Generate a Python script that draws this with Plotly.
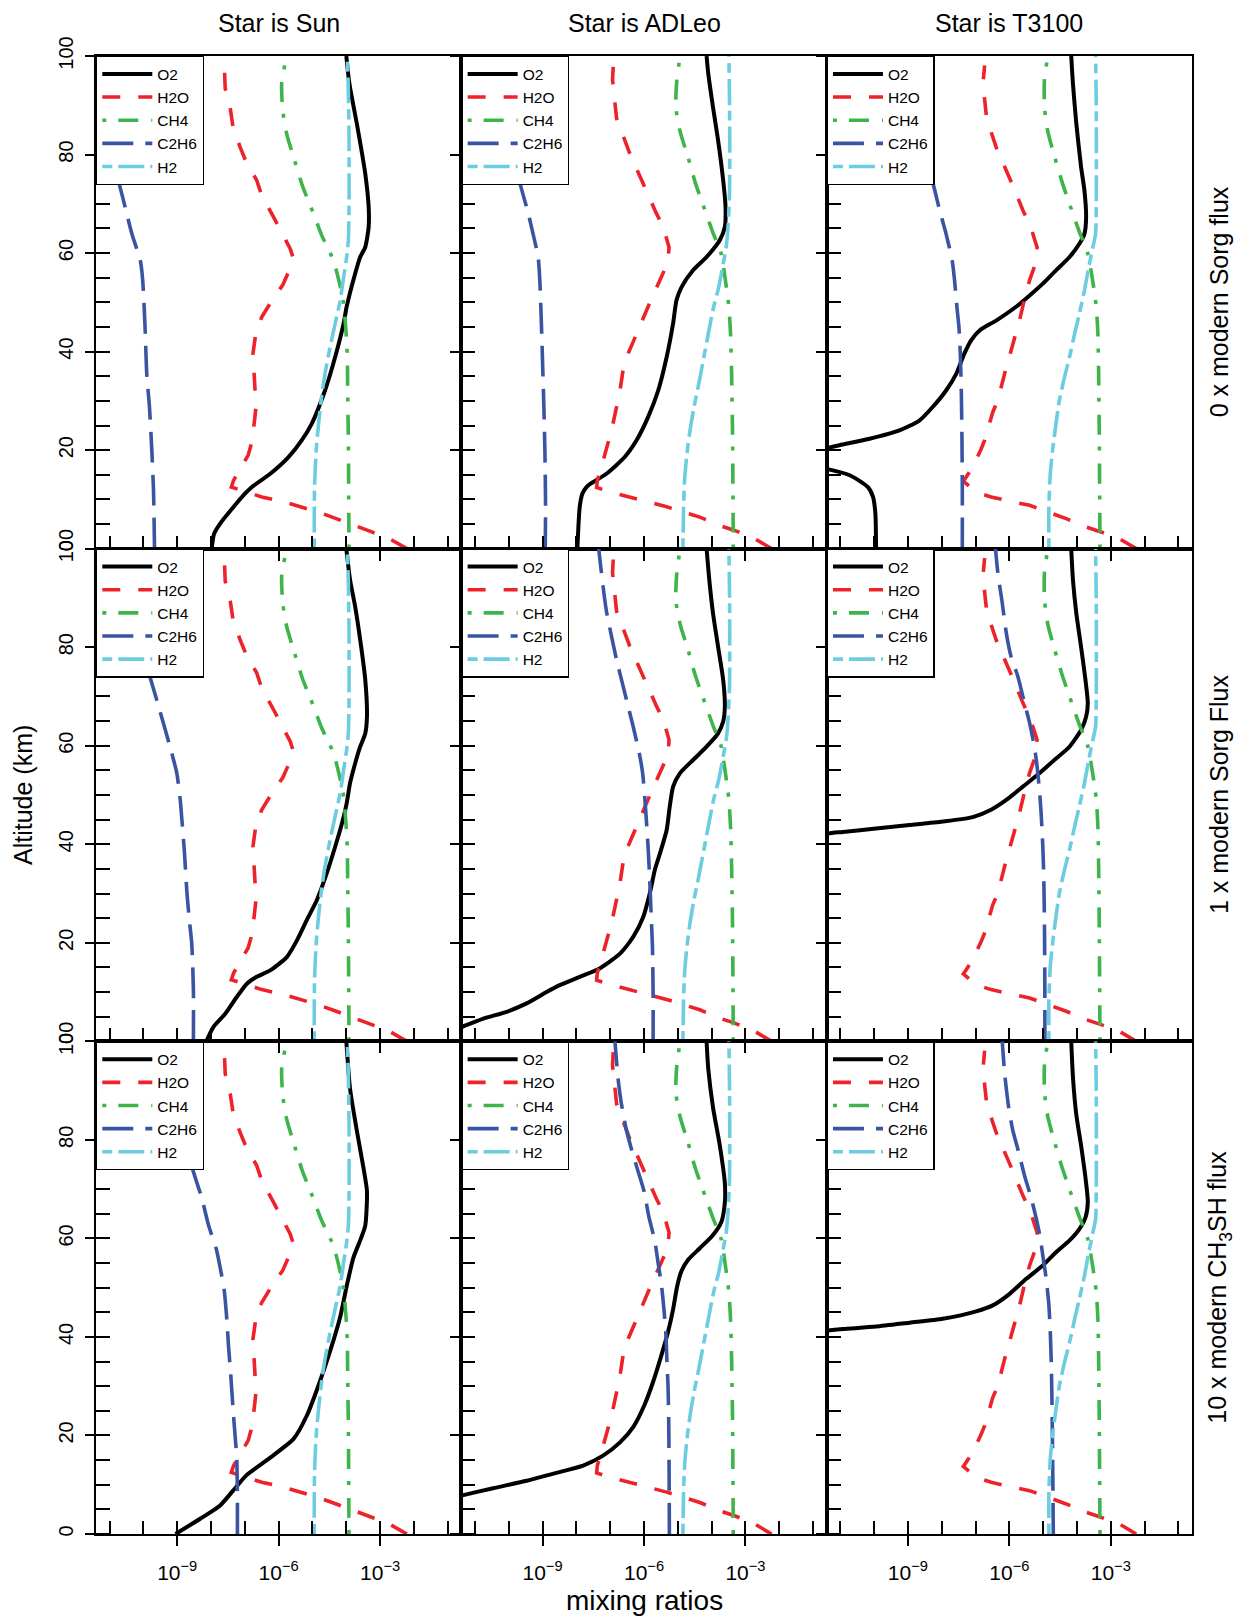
import plotly.graph_objects as go
from plotly.subplots import make_subplots

# ---------------- data: (altitude km, log10 mixing ratio) ----------------
SUN_O2_0 = [(0, -7.98), (3, -7.91), (5.1, -7.73), (8.5, -7.33), (11.2, -6.99), (12.5, -6.79), (15.2, -6.25),
            (18.6, -5.71), (22, -5.32), (25.4, -5.02), (32.1, -4.63), (38.9, -4.33), (45.7, -4.08), (49.1, -3.99),
            (55.8, -3.74), (59.2, -3.59), (61.2, -3.44), (65.3, -3.34), (69.4, -3.34), (76.1, -3.44),
            (86.3, -3.69), (94.4, -3.91), (100, -4.0)]
SUN_O2_1 = [(0, -8.14), (2.9, -7.93), (5.6, -7.58), (9, -7.24), (11.7, -6.94), (13.1, -6.65), (14.4, -6.25),
            (17.1, -5.76), (20.5, -5.46), (24.6, -5.17), (28.7, -4.87), (34.1, -4.58), (39.5, -4.33),
            (44.2, -4.13), (48.3, -3.99), (52.4, -3.89), (56.4, -3.74), (59.8, -3.59), (62.5, -3.44),
            (65.9, -3.39), (73.4, -3.44), (81.5, -3.59), (88.3, -3.74), (93.7, -3.89), (100, -4.0)]
SUN_O2_2 = [(0, -9.05), (3.1, -8.32), (5.8, -7.73), (9.7, -7.24), (12, -6.94), (15.5, -6.25), (19.3, -5.56),
            (24, -5.17), (30.2, -4.82), (37.1, -4.48), (44.1, -4.18), (50.3, -3.99), (56.1, -3.79),
            (59.6, -3.59), (62.6, -3.44), (69.6, -3.39), (74.2, -3.49), (81.9, -3.69), (90.4, -3.89), (100, -4.0)]

ADLEO_O2_0 = [(0, -7.97), (8.5, -7.9), (11.2, -7.82), (12.5, -7.7), (13.2, -7.58), (15.2, -7.11), (18.6, -6.57),
              (22, -6.22), (26.7, -5.88), (32.1, -5.58), (38.9, -5.33), (45.7, -5.14), (50.4, -5.04),
              (53.1, -4.89), (56.5, -4.55), (59.2, -4.15), (62.6, -3.76), (65.3, -3.61), (69.4, -3.59),
              (74.8, -3.66), (82.9, -3.81), (89.6, -3.96), (96.4, -4.1), (100, -4.15)]
ADLEO_O2_1 = [(0, -12.6), (1.5, -12.0), (2.9, -11.39), (4.6, -10.75), (6, -10.06), (7.7, -9.47), (10, -8.88),
              (11.4, -8.49), (13.1, -7.9), (14.8, -7.31), (17.8, -6.71), (21.2, -6.32), (25.3, -6.02),
              (30, -5.83), (34.8, -5.68), (38.1, -5.53), (42.9, -5.33), (47.6, -5.24), (51.7, -5.14),
              (54.4, -4.94), (57.1, -4.55), (59.8, -4.15), (62.5, -3.81), (64.9, -3.66), (68, -3.61),
              (73.4, -3.66), (80.1, -3.81), (86.9, -3.96), (93.7, -4.07), (100, -4.15)]
ADLEO_O2_2 = [(0, -14.0), (6, -12.4), (7.9, -11.34), (9.3, -10.46), (10.8, -9.47), (12.4, -8.59), (13.9, -7.8),
              (15.9, -7.21), (18.6, -6.71), (21.7, -6.32), (26.3, -5.98), (30.9, -5.73), (36.4, -5.48),
              (41, -5.29), (45.6, -5.14), (50.3, -5.02), (53.4, -4.89), (55.7, -4.69), (58, -4.35),
              (60.7, -3.96), (63.4, -3.71), (67.3, -3.61), (71.2, -3.61), (78.9, -3.76), (86.6, -3.96),
              (94.4, -4.1), (100, -4.15)]

T3100_O2_0 = [(0, -9.94), (7.1, -9.96), (10.5, -10.03), (12.5, -10.18), (14.9, -10.72), (16.2, -11.4),
              (17.2, -12.2), (18.3, -12.6), (19.3, -12.2), (20.3, -11.45), (21, -11.02), (22.3, -10.13),
              (24, -9.25), (26, -8.66), (28.8, -8.26), (32.1, -7.87), (35.5, -7.57), (39.6, -7.33),
              (42.3, -7.13), (44.3, -6.88), (46.3, -6.39), (49.1, -5.8), (51.4, -5.4), (53.8, -5.01),
              (56.5, -4.62), (59.2, -4.22), (61.9, -3.93), (63.9, -3.78), (67.3, -3.73), (72.7, -3.78),
              (77.5, -3.88), (86.3, -4.02), (94.4, -4.12), (100, -4.17)]
T3100_O2_1 = [(0, -15.0), (35, -14.0), (41, -12.2), (42.2, -11.36), (42.5, -10.92), (43.2, -9.94), (43.9, -8.95),
              (44.6, -7.97), (45.5, -7.08), (47, -6.54), (49, -6.09), (51.7, -5.6), (54.4, -5.11), (57.1, -4.67),
              (59.8, -4.22), (63.2, -3.88), (65.9, -3.73), (68.6, -3.68), (73.4, -3.75), (80.1, -3.88),
              (86.9, -4.02), (93.7, -4.12), (100, -4.17)]
T3100_O2_2 = [(0, -15.0), (35, -14.0), (40.5, -12.2), (41.3, -11.36), (41.6, -10.92), (42.1, -9.94),
              (42.9, -8.95), (43.7, -7.97), (45.2, -6.98), (46.4, -6.49), (48.7, -6.0), (51.8, -5.5),
              (54.5, -5.01), (57.2, -4.62), (59.6, -4.22), (61.9, -3.93), (64.2, -3.75), (67.3, -3.68),
              (71.2, -3.73), (78.9, -3.88), (85.1, -4.02), (92.8, -4.12), (100, -4.17)]

SUN_H2O = [(0, -2.21), (2, -2.72), (3.4, -3.25), (4.7, -3.79), (6.1, -4.3), (7.4, -4.82), (8.8, -5.45),
           (9.5, -5.85), (10.5, -6.5), (11.5, -6.99), (12.5, -7.4), (13.9, -7.33), (16.6, -7.09), (19, -6.9),
           (21, -6.82), (24.4, -6.74), (28.8, -6.67), (32.1, -6.69), (36.5, -6.74), (39.6, -6.76), (44, -6.67),
           (47, -6.5), (50.7, -6.17), (53.5, -5.88), (57.7, -5.61), (59.2, -5.58), (60.9, -5.66), (64.6, -5.96),
           (67.3, -6.15), (71.7, -6.5), (74.8, -6.65), (78.5, -6.96), (81.5, -7.14), (85.6, -7.35),
           (89.3, -7.43), (93.4, -7.58), (96.8, -7.6)]
ADLEO_H2O = [(0, -2.23), (2, -2.72), (3.7, -3.32), (4.7, -3.76), (6.4, -4.35), (7.4, -4.79), (8.5, -5.33),
             (9.5, -5.88), (10.5, -6.47), (11.5, -6.99), (12.4, -7.4), (13.9, -7.38), (16.6, -7.26),
             (21.3, -7.06), (24, -6.96), (28.8, -6.81), (32.1, -6.71), (36.2, -6.62), (39.6, -6.47),
             (43.6, -6.22), (47, -6.02), (50.7, -5.78), (54.5, -5.53), (58.2, -5.29), (61.2, -5.26),
             (65.3, -5.43), (68, -5.63), (72.7, -5.93), (74.8, -6.07), (80.2, -6.42), (87.3, -6.81),
             (95.1, -6.93), (97.8, -6.91)]
T3100_H2O = [(0, -2.25), (2, -2.74), (3.4, -3.29), (4.4, -3.73), (6.1, -4.32), (7.4, -4.81), (8.8, -5.4),
             (9.5, -5.9), (10.5, -6.54), (11.5, -6.98), (13.7, -7.36), (14.5, -7.28), (16.6, -7.08),
             (20.3, -6.83), (22, -6.73), (27.7, -6.49), (30.1, -6.34), (35.5, -6.14), (38.9, -6.0),
             (42.3, -5.85), (46.3, -5.7), (50.7, -5.55), (54.5, -5.4), (58.2, -5.21), (61.2, -5.18),
             (65.3, -5.37), (68.7, -5.6), (73.4, -5.88), (76.8, -6.09), (81.5, -6.39), (87.3, -6.67),
             (94.4, -6.78), (98.1, -6.73)]

SUN_CH4 = [(0, -3.92), (11.2, -3.93), (22, -3.94), (32.5, -3.96), (38.9, -3.97), (43.2, -4.0), (49.7, -4.08),
           (53.8, -4.2), (58.5, -4.38), (63.8, -4.74), (68, -4.97), (73.7, -5.3), (79.5, -5.56), (84.1, -5.76),
           (89, -5.88), (94.7, -5.91), (100, -5.76)]
ADLEO_CH4 = [(0, -3.36), (11.2, -3.37), (22, -3.38), (35.5, -3.41), (43.3, -3.44), (49.1, -3.49), (53.8, -3.58),
             (59.9, -3.72), (64.1, -3.96), (68.7, -4.2), (74.2, -4.48), (79.5, -4.7), (84.6, -4.93),
             (89.6, -5.06), (95.1, -5.03), (100, -4.93)]
T3100_CH4 = [(0, -3.32), (11.2, -3.33), (22, -3.34), (35.5, -3.36), (43.3, -3.38), (49.1, -3.43), (54.1, -3.53),
             (59.9, -3.68), (64.3, -3.93), (68, -4.12), (74.4, -4.44), (79.5, -4.66), (84.6, -4.86),
             (89.6, -4.96), (95.4, -4.96), (100, -4.86)]

SUN_H2 = [(0, -4.95), (12.5, -4.94), (20, -4.89), (25.4, -4.82), (31.5, -4.72), (35.5, -4.63), (40.9, -4.48),
          (45.7, -4.33), (50.4, -4.18), (55.1, -4.08), (59.2, -3.99), (62.6, -3.94), (69.4, -3.92),
          (82.9, -3.92), (93, -3.94), (100, -3.97)]
ADLEO_H2 = [(0, -4.85), (8.5, -4.83), (13.9, -4.8), (19.3, -4.73), (24, -4.64), (28.8, -4.52), (33.5, -4.38),
            (38.9, -4.23), (44.3, -4.08), (49.1, -3.94), (53.1, -3.79), (57.8, -3.66), (61.2, -3.57),
            (66, -3.51), (72.7, -3.47), (89.6, -3.47), (100, -3.49)]
T3100_H2 = [(0, -4.83), (8.5, -4.83), (15.2, -4.79), (20.6, -4.71), (25.4, -4.62), (30.1, -4.52), (34.8, -4.37),
            (38.9, -4.22), (43.6, -4.07), (47.7, -3.93), (52.4, -3.78), (57.2, -3.65), (61.2, -3.53),
            (63.9, -3.45), (69.4, -3.43), (89.6, -3.43), (100, -3.45)]

SUN_C2H6_0 = [(0, -9.67), (11.8, -9.7), (20, -9.75), (28.8, -9.82), (35.5, -9.9), (45, -9.95), (54.5, -10.02),
              (58.5, -10.09), (63.9, -10.34), (68, -10.49), (73.7, -10.7), (80, -10.95), (90, -11.3), (100, -11.6)]
SUN_C2H6_1 = [(0, -8.52), (10.4, -8.52), (19.9, -8.57), (24.6, -8.64), (30, -8.71), (38.8, -8.79), (44.9, -8.86),
              (49, -8.91), (54.4, -9.01), (58.5, -9.16), (63.9, -9.38), (68, -9.55), (73.4, -9.78), (80, -10.05),
              (90, -10.4), (100, -10.7)]
SUN_C2H6_2 = [(0, -7.22), (7.7, -7.22), (15.5, -7.24), (20.1, -7.29), (25.5, -7.35), (31.7, -7.41), (37.9, -7.48),
              (43.3, -7.53), (49.5, -7.61), (54.1, -7.73), (58, -7.85), (62.6, -8.07), (68.1, -8.27),
              (73.5, -8.52), (80, -8.8), (90, -9.1), (100, -9.4)]
ADLEO_C2H6_0 = [(0, -8.92), (8.5, -8.91), (20, -8.93), (28.8, -8.96), (38.2, -9.0), (45, -9.03), (54.5, -9.08),
                (59.2, -9.13), (63.9, -9.28), (68, -9.42), (73.7, -9.65), (80, -9.9), (90, -10.2), (100, -10.5)]
ADLEO_C2H6_1 = [(0, -5.73), (9, -5.73), (19.2, -5.75), (25.9, -5.79), (32.7, -5.83), (39.5, -5.88), (44.9, -5.93),
                (49.7, -5.98), (54.4, -6.04), (58.5, -6.14), (63.9, -6.32), (68, -6.47), (72.7, -6.64),
                (77.4, -6.81), (82.2, -6.96), (87.3, -7.11), (92.3, -7.21), (100, -7.34)]
ADLEO_C2H6_2 = [(0, -5.25), (15.5, -5.26), (23.2, -5.27), (30.2, -5.29), (34.8, -5.32), (40.2, -5.35),
                (45.6, -5.41), (50.3, -5.48), (54.9, -5.58), (59.5, -5.68), (64.2, -5.85), (69.6, -6.0),
                (73.5, -6.17), (78.1, -6.37), (82, -6.52), (87.4, -6.67), (92, -6.76), (100, -6.86)]
T3100_C2H6_0 = [(0, -7.39), (11.8, -7.39), (22, -7.4), (32.1, -7.42), (39.6, -7.45), (45, -7.49), (49.1, -7.55),
                (54.5, -7.62), (58.5, -7.69), (63.9, -7.87), (68.7, -8.06), (73.7, -8.24), (80, -8.5),
                (90, -8.8), (100, -9.1)]
T3100_C2H6_1 = [(0, -4.95), (9, -4.95), (22.6, -4.96), (32.7, -4.98), (39.5, -5.01), (46.3, -5.06), (51, -5.11),
                (56.4, -5.19), (59.8, -5.26), (64.6, -5.4), (68.6, -5.55), (74.1, -5.75), (78.1, -5.95),
                (82.9, -6.09), (89, -6.21), (95.1, -6.34), (100, -6.41)]
T3100_C2H6_2 = [(0, -4.7), (15.5, -4.72), (27.1, -4.74), (34.8, -4.76), (41, -4.79), (46.4, -4.83), (51.8, -4.91),
                (56.5, -5.01), (60.3, -5.09), (64.2, -5.21), (68.1, -5.35), (72.7, -5.55), (77.4, -5.72),
                (82, -5.9), (86.6, -6.02), (93.6, -6.14), (100, -6.21)]

STAR_TITLES = ["Star is Sun", "Star is ADLeo", "Star is T3100"]
ROW_LABELS = ["0 x modern Sorg flux", "1 x modern Sorg Flux", "10 x modern CH<sub>3</sub>SH flux"]
SPECIES = ["O2", "H2O", "CH4", "C2H6", "H2"]
X_TICK_EXP = [-9, -6, -3]
Y_TICKS = [0, 20, 40, 60, 80, 100]

PANELS = [
    [dict(O2=SUN_O2_0, H2O=SUN_H2O, CH4=SUN_CH4, C2H6=SUN_C2H6_0, H2=SUN_H2),
     dict(O2=ADLEO_O2_0, H2O=ADLEO_H2O, CH4=ADLEO_CH4, C2H6=ADLEO_C2H6_0, H2=ADLEO_H2),
     dict(O2=T3100_O2_0, H2O=T3100_H2O, CH4=T3100_CH4, C2H6=T3100_C2H6_0, H2=T3100_H2)],
    [dict(O2=SUN_O2_1, H2O=SUN_H2O, CH4=SUN_CH4, C2H6=SUN_C2H6_1, H2=SUN_H2),
     dict(O2=ADLEO_O2_1, H2O=ADLEO_H2O, CH4=ADLEO_CH4, C2H6=ADLEO_C2H6_1, H2=ADLEO_H2),
     dict(O2=T3100_O2_1, H2O=T3100_H2O, CH4=T3100_CH4, C2H6=T3100_C2H6_1, H2=T3100_H2)],
    [dict(O2=SUN_O2_2, H2O=SUN_H2O, CH4=SUN_CH4, C2H6=SUN_C2H6_2, H2=SUN_H2),
     dict(O2=ADLEO_O2_2, H2O=ADLEO_H2O, CH4=ADLEO_CH4, C2H6=ADLEO_C2H6_2, H2=ADLEO_H2),
     dict(O2=T3100_O2_2, H2O=T3100_H2O, CH4=T3100_CH4, C2H6=T3100_C2H6_2, H2=T3100_H2)],
]

# ---------------- styles ----------------
FONT = "Liberation Sans, Arial, Helvetica, sans-serif"
STYLE = {
    "O2": dict(color="#000000", width=4, dash="solid", shape="spline"),
    "H2O": dict(color="#EE2229", width=3.6, dash="18px,18px", shape="linear"),
    "CH4": dict(color="#3DB54A", width=3.6, dash="4px,12px,20px,13px", shape="spline"),
    "C2H6": dict(color="#3A54A4", width=3.6, dash="31px,12px", shape="spline"),
    "H2": dict(color="#6CCDE0", width=3.6, dash="10px,6px,26px,6px", shape="spline"),
}

fig = make_subplots(rows=3, cols=3, horizontal_spacing=0, vertical_spacing=0)

for r in range(3):
    for c in range(3):
        idx = r * 3 + c + 1
        lname = "legend" if idx == 1 else f"legend{idx}"
        for sp in SPECIES:
            pts = PANELS[r][c][sp]
            st = STYLE[sp]
            fig.add_trace(go.Scatter(
                x=[10 ** v for _, v in pts], y=[a for a, _ in pts], mode="lines", name=sp,
                line=dict(color=st["color"], width=st["width"], dash=st["dash"], shape=st["shape"],
                          smoothing=0.6 if st["shape"] == "spline" else None),
                legend=lname, showlegend=True, hoverinfo="skip"),
                row=r + 1, col=c + 1)
        fig.update_layout({lname: dict(
            x=c / 3, y=1 - r / 3, xref="paper", yref="paper", xanchor="left", yanchor="top",
            bgcolor="white", bordercolor="black", borderwidth=1.3,
            font=dict(family=FONT, size=15.5, color="black"), itemwidth=50, tracegroupgap=0)})

        fig.update_xaxes(
            type="log", range=[-11.4, -0.6],
            tickmode="array", tickvals=[10.0 ** e for e in X_TICK_EXP],
            ticktext=[f"10<sup>\u2212{-e}</sup>" for e in X_TICK_EXP],
            ticks="outside", ticklen=10, tickwidth=1.7, tickcolor="black",
            showticklabels=(r == 2), tickfont=dict(family=FONT, size=21, color="black"),
            ticklabelstandoff=9,
            minor=dict(tickmode="array", tickvals=[10.0 ** e for e in range(-11, 0)],
                       ticks="inside", ticklen=13, tickwidth=1.7, tickcolor="black", showgrid=False),
            showline=True, linecolor="black", linewidth=1.8, mirror=True,
            showgrid=False, zeroline=False, row=r + 1, col=c + 1)
        fig.update_yaxes(
            range=[0, 100], tickmode="array", tickvals=Y_TICKS, ticktext=[str(v) for v in Y_TICKS],
            ticks="outside", ticklen=9, tickwidth=1.7, tickcolor="black",
            showticklabels=(c == 0), tickangle=-90, tickfont=dict(family=FONT, size=20, color="black"),
            ticklabelstandoff=4,
            minor=dict(tickmode="array", tickvals=list(range(0, 101, 5)),
                       ticks="inside", ticklen=14, tickwidth=1.7, tickcolor="black", showgrid=False),
            showline=True, linecolor="black", linewidth=1.8, mirror=True,
            showgrid=False, zeroline=False, row=r + 1, col=c + 1)

annotations = []
for c, t in enumerate(STAR_TITLES):
    annotations.append(dict(text=t, x=(c + 0.5) / 3, y=1, xref="paper", yref="paper",
                            xanchor="center", yanchor="bottom", yshift=17, showarrow=False,
                            font=dict(family=FONT, size=25, color="black")))
for r, t in enumerate(ROW_LABELS):
    annotations.append(dict(text=t, x=1, y=1 - (r + 0.5) / 3, xref="paper", yref="paper",
                            xanchor="center", yanchor="middle", xshift=27, textangle=-90, showarrow=False,
                            font=dict(family=FONT, size=25, color="black")))
annotations.append(dict(text="Altitude (km)", x=0, y=0.5, xref="paper", yref="paper", xanchor="center",
                        yanchor="middle", xshift=-73, textangle=-90, showarrow=False,
                        font=dict(family=FONT, size=25, color="black")))
annotations.append(dict(text="mixing ratios", x=0.5, y=0, xref="paper", yref="paper", xanchor="center",
                        yanchor="middle", yshift=-66, showarrow=False,
                        font=dict(family=FONT, size=28, color="black")))

fig.update_layout(
    width=1239, height=1617, autosize=False,
    margin=dict(l=96, r=47, t=56, b=83),
    paper_bgcolor="white", plot_bgcolor="white",
    font=dict(family=FONT, color="black"),
    annotations=annotations,
)

fig.write_html("out.html")
